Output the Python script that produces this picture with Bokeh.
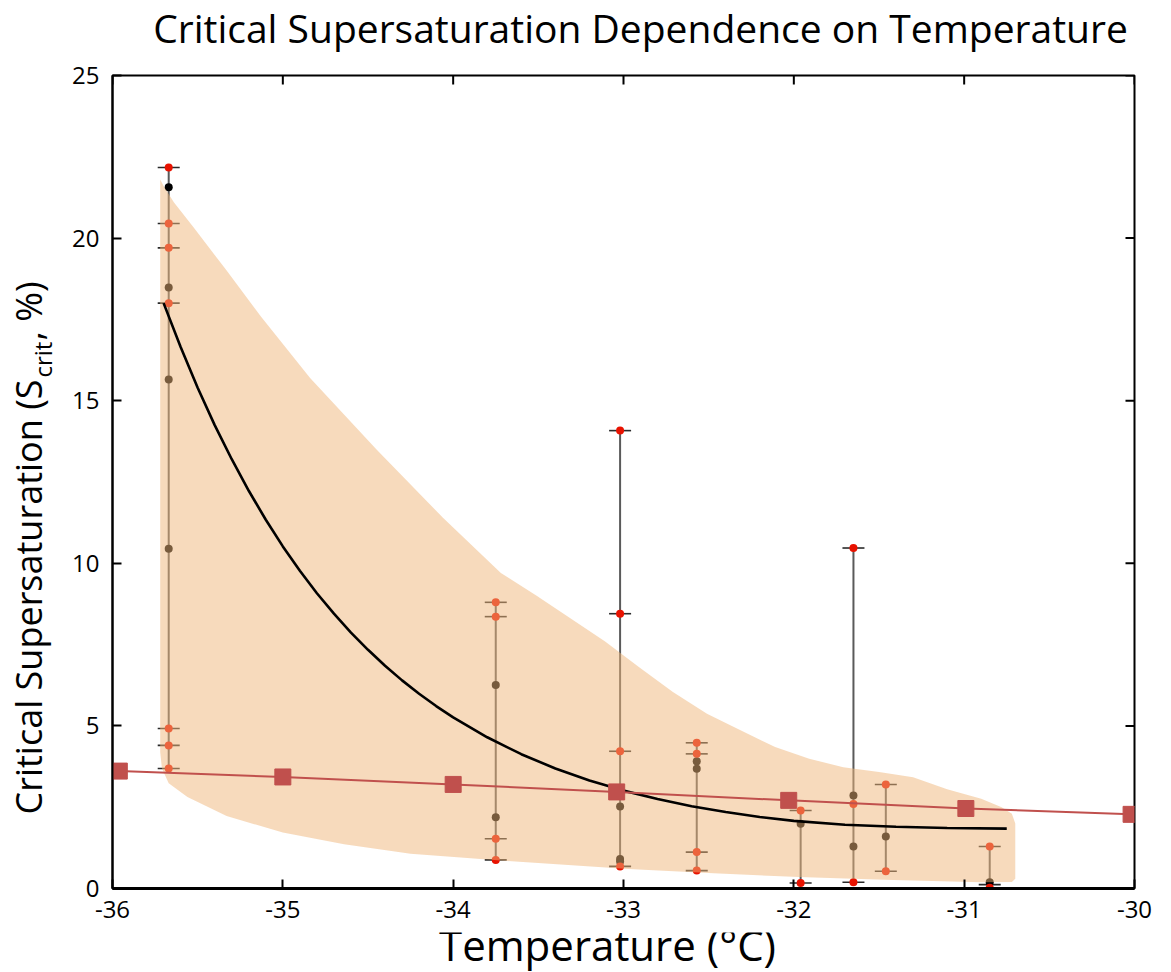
import math
from bokeh.plotting import figure
from bokeh.models import Range1d, FixedTicker
from bokeh.layouts import column, row
from bokeh.core.properties import value
from bokeh.embed import file_html
from bokeh.resources import INLINE

# ---------------- data ----------------
x_ticks = [-36, -35, -34, -33, -32, -31, -30]
x_tick_labels = ["-36", "-35", "-34", "-33", "-32", "-31", "-30"]
y_ticks = [0, 5, 10, 15, 20, 25]
y_tick_labels = ["0", "5", "10", "15", "20", "25"]

title_text = "Critical Supersaturation Dependence on Temperature"
xlabel_text = "Temperature (°C)"
ylabel_main = "Critical Supersaturation (S"
ylabel_sub = "crit"
ylabel_end = ", %)"

# measurement columns (temperature of each column)
col_temp = [-35.67, -33.75, -33.02, -32.57, -31.96, -31.65, -31.46, -30.85]
# red points (appear orange where the shaded band covers them)
red_vals = [
    [22.17, 20.45, 19.70, 18.00, 4.92, 4.40, 3.69],
    [8.80, 8.36, 1.53, 0.88],
    [14.08, 8.45, 4.22, 0.68],
    [4.48, 4.14, 1.12, 0.55],
    [2.40, 0.17],
    [10.47, 2.60, 0.19],
    [3.20, 0.53],
    [1.29, 0.02],
]
# black points (appear grey where the shaded band covers them)
black_vals = [
    [21.56, 18.48, 15.65, 10.45],
    [6.26, 2.19],
    [2.52, 0.91, 0.83],
    [3.91, 3.68],
    [1.99],
    [2.86, 1.29],
    [1.60],
    [0.19],
]
# horizontal caps
cap_vals = [
    [22.17, 20.45, 19.70, 18.00, 4.92, 4.40, 3.69],
    [8.80, 8.36, 1.53, 0.88],
    [14.08, 8.45, 4.22, 0.68],
    [4.48, 4.14, 1.12, 0.55],
    [2.40, 0.17],
    [10.47, 0.19],
    [3.20, 0.53],
    [1.29, 0.12],
]

# red model line with square markers
sq_temp = [-35.96, -35.0, -34.0, -33.04, -32.03, -30.99, -30.02]
sq_val = [3.61, 3.43, 3.20, 2.97, 2.71, 2.46, 2.28]

# black fitted curve
fit_temp = [-35.70, -35.60, -35.50, -35.40, -35.30, -35.20, -35.10, -35.00, -34.90,
            -34.80, -34.70, -34.60, -34.50, -34.40, -34.30, -34.20, -34.10, -34.00,
            -33.80, -33.60, -33.40, -33.20, -33.00, -32.80, -32.60, -32.40, -32.20,
            -32.00, -31.70, -31.40, -31.10, -30.75]
fit_val = [18.0, 16.65, 15.4, 14.25, 13.2, 12.23, 11.34, 10.52, 9.77,
           9.08, 8.45, 7.87, 7.34, 6.85, 6.40, 5.99, 5.61, 5.26,
           4.65, 4.13, 3.69, 3.32, 3.01, 2.75, 2.53, 2.35, 2.20,
           2.08, 1.96, 1.90, 1.86, 1.84]

# shaded uncertainty band: upper edge (left->right) then lower edge (right->left)
band_upper_t = [-35.72, -35.70, -35.64, -35.52, -35.33, -35.13, -34.84, -34.45, -34.06,
                -33.72, -33.51, -33.31, -33.11, -32.91, -32.71, -32.51, -32.31, -32.11,
                -31.91, -31.71, -31.50, -31.30, -31.10, -30.90, -30.78, -30.72, -30.70]
band_upper_v = [21.8, 21.6, 21.1, 20.3, 19.0, 17.6, 15.7, 13.5, 11.4,
                9.7, 9.0, 8.3, 7.6, 6.81, 6.04, 5.37, 4.86, 4.35,
                3.99, 3.73, 3.58, 3.42, 3.05, 2.76, 2.5, 2.3, 2.0]
band_lower_t = [-30.70, -30.72, -30.90, -31.47, -31.97, -32.47, -32.97, -33.72, -34.25,
                -34.64, -35.00, -35.33, -35.56, -35.67, -35.71, -35.72]
band_lower_v = [0.3, 0.2, 0.19, 0.27, 0.35, 0.47, 0.60, 0.86, 1.07,
                1.36, 1.72, 2.23, 2.81, 3.24, 3.7, 4.2]

FONT = "Open Sans"


def text_fig(w, h, x0, y0):
    """Blank svg figure whose data coordinates equal page pixels."""
    f = figure(width=w, height=h, frame_width=w, frame_height=h,
               x_range=Range1d(x0, x0 + w), y_range=Range1d(y0 + h, y0),
               output_backend="svg", toolbar_location=None, title=None,
               x_axis_location=None, y_axis_location=None, min_border=0)
    f.grid.visible = False
    f.outline_line_color = None
    f.background_fill_color = "white"
    f.border_fill_color = "white"
    return f


# ---------------- title ----------------
tfig = text_fig(1171, 55, 0, 0)
tfig.text(x=[640], y=[27], text=[title_text], text_font=value(FONT), text_font_size="39px",
          text_color="black", text_align="center", text_baseline="alphabetic")

# ---------------- y label ----------------
yfig = text_fig(60, 877, 0, 55)
yfig.text(x=[28], y=[794], text=[ylabel_main], angle=math.pi / 2, text_font=value(FONT),
          text_font_size="36px", text_color="black", text_align="left", text_baseline="alphabetic")
yfig.text(x=[42], y=[357], text=[ylabel_sub], angle=math.pi / 2, text_font=value(FONT),
          text_font_size="24px", text_color="black", text_align="left", text_baseline="alphabetic")
yfig.text(x=[28], y=[320], text=[ylabel_end], angle=math.pi / 2, text_font=value(FONT),
          text_font_size="36px", text_color="black", text_align="left", text_baseline="alphabetic")

# ---------------- main plot ----------------
p = figure(frame_width=1022, frame_height=813,
           x_range=Range1d(-36, -30), y_range=Range1d(0, 25),
           output_backend="svg", toolbar_location=None, title=None,
           min_border_left=52, min_border_right=37, min_border_top=20, min_border_bottom=44)
p.grid.visible = False
p.background_fill_color = "white"
p.border_fill_color = "white"
p.outline_line_color = "black"
p.outline_line_width = 2

for ax, ticks, labels in ((p.xaxis[0], x_ticks, x_tick_labels), (p.yaxis[0], y_ticks, y_tick_labels)):
    ax.ticker = FixedTicker(ticks=ticks)
    ax.major_label_overrides = {t: l for t, l in zip(ticks, labels)}
    ax.major_tick_in = 9
    ax.major_tick_out = 0
    ax.minor_tick_line_color = None
    ax.major_tick_line_color = "black"
    ax.major_tick_line_width = 2
    ax.axis_line_color = "black"
    ax.axis_line_width = 2
    ax.major_label_text_font = FONT
    ax.major_label_text_font_size = "24px"
    ax.major_label_text_color = "black"
p.xaxis.major_label_standoff = 12
p.xaxis.axis_line_width = 3
p.yaxis.major_label_standoff = 13

# inward ticks on top and right edges of the box
p.ray(x=x_ticks, y=[y_ticks[-1]] * len(x_ticks), length=9, length_units="screen",
      angle=-math.pi / 2, line_color="black", line_width=2)
p.ray(x=[x_ticks[-1]] * len(y_ticks), y=y_ticks, length=9, length_units="screen",
      angle=math.pi, line_color="black", line_width=2)

# error columns: vertical lines
seg_y0 = [min(r + b) for r, b in zip(red_vals, black_vals)]
seg_y1 = [max(r + b) for r, b in zip(red_vals, black_vals)]
p.segment(x0=col_temp, y0=seg_y0, x1=col_temp, y1=seg_y1, line_color="#5a5a5a", line_width=2)

cx, cy = [], []
for t, vals in zip(col_temp, cap_vals):
    cx += [t] * len(vals)
    cy += vals
p.scatter(cx, cy, marker="dash", size=22, line_color="#2a2a2a", line_width=1.6)

bx, by = [], []
for t, vals in zip(col_temp, black_vals):
    bx += [t] * len(vals)
    by += vals
p.scatter(bx, by, marker="circle", size=8, fill_color="black", line_color=None)

rx, ry = [], []
for t, vals in zip(col_temp, red_vals):
    rx += [t] * len(vals)
    ry += vals
p.scatter(rx, ry, marker="circle", size=8, fill_color="#e81200", line_color=None)

# shaded band (semi transparent, on top of the points)
p.patch(band_upper_t + band_lower_t, band_upper_v + band_lower_v,
        fill_color=(240, 182, 122), fill_alpha=0.5, line_color=None)

# fitted curve
p.line(fit_temp, fit_val, line_color="black", line_width=2.6)

# red line with squares
p.line(sq_temp, sq_val, line_color="#c0504d", line_width=2)
p.scatter(sq_temp, sq_val, marker="square", size=16, fill_color="#c0504d", line_color="#c0504d")

# ---------------- x label ----------------
xfig = text_fig(1171, 40, 0, 932)
xfig.text(x=[607], y=[944], text=[xlabel_text], text_font=value(FONT), text_font_size="42px",
          text_color="black", text_align="center", text_baseline="alphabetic")

layout = column(tfig, row(yfig, p, spacing=0), xfig, spacing=0)
open("out.html", "w").write(file_html(layout, INLINE))
